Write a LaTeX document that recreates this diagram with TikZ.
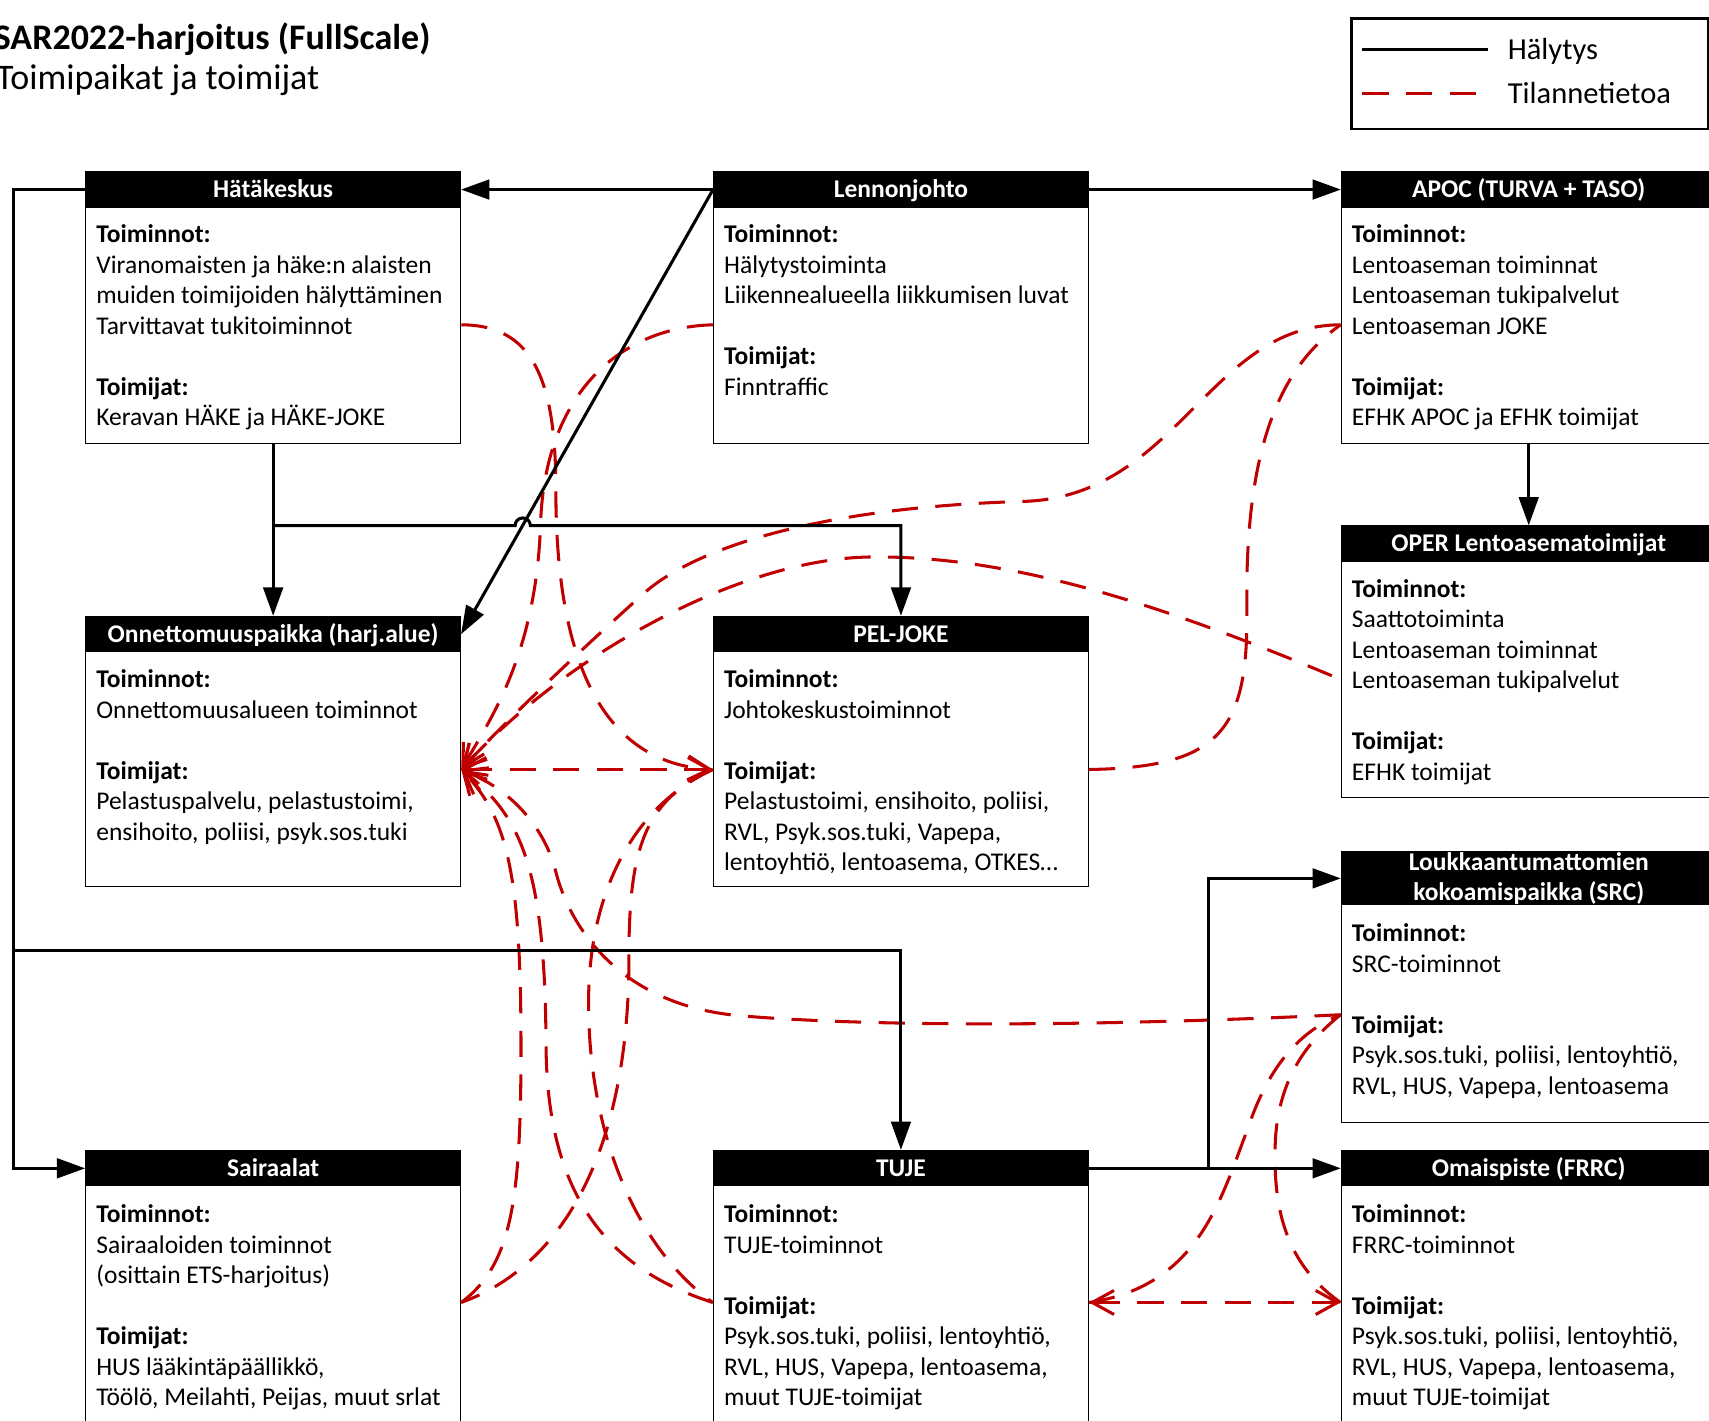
\documentclass[tikz,border=0pt]{standalone}
\usepackage{fontspec}
\setmainfont{Carlito}
\usetikzlibrary{arrows.meta,calc,positioning}

\definecolor{infored}{HTML}{C00000}

\tikzset{
  box/.style={draw, line width=0.6pt, fill=white, anchor=north west,
    minimum width=172pt, minimum height=124.5pt, inner sep=0pt},
  hbase/.style={fill=black, text=white, anchor=north, minimum width=172pt,
    minimum height=16.5pt, inner sep=0pt,
    font=\fontsize{11.7}{14}\selectfont\bfseries},
  head/.style={hbase, text height=9.4pt, text depth=2pt},
  txt/.style={anchor=north west, inner sep=0pt, align=left,
    font=\fontsize{11.7}{14}\selectfont,
    execute at begin node=\rule{0pt}{10pt}},
  legtxt/.style={anchor=base west, inner sep=0pt, font=\fontsize{14}{16}\selectfont},
  alarm/.style={line width=1.4pt, -{Triangle[length=13pt,width=9pt]}},
  info/.style={draw=infored, line width=1.4pt, dash pattern=on 12pt off 8pt},
  infoarrow/.style={info, -{Straight Barb[length=10pt,width=11pt]}},
  infoboth/.style={info, {Straight Barb[length=10pt,width=11pt]}-{Straight Barb[length=10pt,width=11pt]}},
}

\begin{document}
\begin{tikzpicture}[x=0.5pt, y=-0.5pt]

\useasboundingbox (0,0) rectangle (1568,1303);

% title
\node[anchor=base west, inner sep=0pt, font=\fontsize{16.5}{20}\selectfont\bfseries] (title) at (-6,45) {SAR2022-harjoitus (FullScale)};
\node[anchor=base west, inner sep=0pt, font=\fontsize{16.5}{20}\selectfont] (subtitle) at (-4,82) {Toimipaikat ja toimijat};

% legend
\node[draw, line width=1.2pt, anchor=north west, minimum width=163.5pt, minimum height=50.5pt, inner sep=0pt] (legend) at (1239,16) {};
\coordinate (lgA) at (1250,45);
\coordinate (lgB) at (1250,86);
\draw[line width=1.4pt] (lgA) -- ++(115,0);
\draw[info] (lgB) -- ++(115,0);
\node[legtxt] (lgT1) at (1383,55) {Hälytys};
\node[legtxt] (lgT2) at (1383,95) {Tilannetietoa};

% row 1
\node[box] (hk) at (78,157) {};
\node[head] (hkH) at (hk.north) {Hätäkeskus};
\node[txt] (hkT) at ($(hk.north west)+(10,49)$) {\textbf{Toiminnot:}\\ Viranomaisten ja häke:n alaisten\\ muiden toimijoiden hälyttäminen\\ Tarvittavat tukitoiminnot\\[14pt] \textbf{Toimijat:}\\ Keravan HÄKE ja HÄKE-JOKE};

\node[box] (lj) at (654,157) {};
\node[head] (ljH) at (lj.north) {Lennonjohto};
\node[txt] (ljT) at ($(lj.north west)+(10,49)$) {\textbf{Toiminnot:}\\ Hälytystoiminta\\ Liikennealueella liikkumisen luvat\\[14pt] \textbf{Toimijat:}\\ Finntraffic};

\node[box] (apoc) at (1230,157) {};
\node[head] (apocH) at (apoc.north) {APOC (TURVA + TASO)};
\node[txt] (apocT) at ($(apoc.north west)+(10,49)$) {\textbf{Toiminnot:}\\ Lentoaseman toiminnat\\ Lentoaseman tukipalvelut\\ Lentoaseman JOKE\\[14pt] \textbf{Toimijat:}\\ EFHK APOC ja EFHK toimijat};

% row 2
\node[box] (oper) at (1230,482) {};
\node[head] (operH) at (oper.north) {OPER Lentoasematoimijat};
\node[txt] (operT) at ($(oper.north west)+(10,49)$) {\textbf{Toiminnot:}\\ Saattotoiminta\\ Lentoaseman toiminnat\\ Lentoaseman tukipalvelut\\[14pt] \textbf{Toimijat:}\\ EFHK toimijat};

\node[box, minimum height=124pt] (onn) at (78,565) {};
\node[head] (onnH) at (onn.north) {Onnettomuuspaikka (harj.alue)};
\node[txt] (onnT) at ($(onn.north west)+(10,49)$) {\textbf{Toiminnot:}\\ Onnettomuusalueen toiminnot\\[14pt] \textbf{Toimijat:}\\ Pelastuspalvelu, pelastustoimi,\\ ensihoito, poliisi, psyk.sos.tuki};

\node[box, minimum height=124pt] (pel) at (654,565) {};
\node[head] (pelH) at (pel.north) {PEL-JOKE};
\node[txt] (pelT) at ($(pel.north west)+(10,49)$) {\textbf{Toiminnot:}\\ Johtokeskustoiminnot\\[14pt] \textbf{Toimijat:}\\ Pelastustoimi, ensihoito, poliisi,\\ RVL, Psyk.sos.tuki, Vapepa,\\ lentoyhtiö, lentoasema, OTKES\ldots};

% row 3
\node[box, minimum height=124pt] (src) at (1230,781) {};
\node[hbase, align=center, minimum height=24.5pt] (srcH) at (src.north) {Loukkaantumattomien\\ kokoamispaikka (SRC)};
\node[txt] (srcT) at ($(src.north west)+(10,66)$) {\textbf{Toiminnot:}\\ SRC-toiminnot\\[14pt] \textbf{Toimijat:}\\ Psyk.sos.tuki, poliisi, lentoyhtiö,\\ RVL, HUS, Vapepa, lentoasema};

\node[box, minimum height=125pt] (sai) at (78,1055) {};
\node[head] (saiH) at (sai.north) {Sairaalat};
\node[txt] (saiT) at ($(sai.north west)+(10,50)$) {\textbf{Toiminnot:}\\ Sairaaloiden toiminnot\\ (osittain ETS-harjoitus)\\[14pt] \textbf{Toimijat:}\\ HUS lääkintäpäällikkö,\\ Töölö, Meilahti, Peijas, muut srlat};

\node[box, minimum height=125pt] (tuje) at (654,1055) {};
\node[head] (tujeH) at (tuje.north) {TUJE};
\node[txt] (tujeT) at ($(tuje.north west)+(10,50)$) {\textbf{Toiminnot:}\\ TUJE-toiminnot\\[14pt] \textbf{Toimijat:}\\ Psyk.sos.tuki, poliisi, lentoyhtiö,\\ RVL, HUS, Vapepa, lentoasema,\\ muut TUJE-toimijat};

\node[box, minimum height=125pt] (omai) at (1230,1055) {};
\node[head] (omaiH) at (omai.north) {Omaispiste (FRRC)};
\node[txt] (omaiT) at ($(omai.north west)+(10,50)$) {\textbf{Toiminnot:}\\ FRRC-toiminnot\\[14pt] \textbf{Toimijat:}\\ Psyk.sos.tuki, poliisi, lentoyhtiö,\\ RVL, HUS, Vapepa, lentoasema,\\ muut TUJE-toimijat};

% connection points for the red lines
\coordinate (hkR) at ($(hk.north east)+(0,141)$);
\coordinate (ljL) at ($(lj.north west)+(0,141)$);
\coordinate (apL) at ($(apoc.north west)+(0,141)$);
\coordinate (operL) at ($(oper.north west)+(-8,138)$);
\coordinate (onR) at ($(onn.north east)+(0,141)$);
\coordinate (pelL) at ($(pel.north west)+(0,141)$);
\coordinate (pelR) at ($(pel.north east)+(0,141)$);
\coordinate (srcL) at ($(src.north west)+(0,150)$);
\coordinate (saiR) at ($(sai.north east)+(0,140)$);
\coordinate (tujeL) at ($(tuje.north west)+(0,140)$);
\coordinate (tujeR) at ($(tuje.north east)+(0,140)$);
\coordinate (omaiL) at ($(omai.north west)+(0,140)$);

% tilannetietoa
\draw[infoarrow] (hkR) .. controls (490,298) and (510,350) .. (510,450) .. controls (510,620) and (560,700) .. (pelL); % HK-PEL
\draw[infoarrow] (ljL) .. controls (570,300) and (500,360) .. (496,480) .. controls (492,600) and (450,660) .. (onR); % LJ-ONN
\draw[infoarrow] (apL) .. controls (1110,298) and (1080,455) .. (940,460) .. controls (760,465) and (640,500) .. (590,545) .. controls (540,590) and (470,655) .. (onR); % APOC-ONN
\draw[infoarrow] (operL) .. controls (1050,548) and (920,510) .. (800,511) .. controls (680,512) and (520,600) .. (onR); % OPER-ONN
\draw[info] (pelR) .. controls (1120,704) and (1145,670) .. (1144,560) .. controls (1142,420) and (1170,340) .. (apL); % PEL-APOC
\draw[infoboth] (onR) -- (pelL); % ONN-PEL
\draw[infoarrow] (srcL) .. controls (1000,942) and (800,942) .. (680,932) .. controls (560,922) and (520,840) .. (510,800) .. controls (500,760) and (470,725) .. (onR); % SRC-ONN
\draw[infoarrow] (saiR) .. controls (470,1160) and (478,1100) .. (478,960) .. controls (478,800) and (465,750) .. (onR); % SAI-ONN
\draw[infoarrow] (tujeL) .. controls (560,1165) and (502,1100) .. (501,960) .. controls (500,800) and (480,750) .. (onR); % TUJE-ONN
\draw[info] (pelL) .. controls (580,740) and (540,820) .. (540,920) .. controls (540,1050) and (590,1150) .. (tujeL); % PEL-TUJE
\draw[info] (pelL) .. controls (590,735) and (577,780) .. (577,880) .. controls (577,1050) and (520,1160) .. (saiR); % PEL-SAI
\draw[info] (tujeR) .. controls (1100,1180) and (1120,1100) .. (1145,1035) .. controls (1165,975) and (1195,945) .. (srcL); % TUJE-SRC
\draw[info] (omaiL) .. controls (1180,1160) and (1168,1110) .. (1170,1050) .. controls (1172,990) and (1200,955) .. (srcL); % OMAI-SRC
\draw[infoboth] (tujeR) -- (omaiL); % TUJE-OMAI

% halytys
\draw[alarm] (ljH.west) -- (hkH.east);
\draw[alarm] (ljH.east) -- (apocH.west);
\draw[alarm] (ljH.west) -- (onnH.east);
\draw[alarm] (hk.south) -- (onnH.north);
\coordinate (brA) at ($(hk.south)+(0,75)$);
\draw[alarm] (brA) -- ++(222,0) arc[start angle=180, end angle=0, radius=3.5pt] -| (pelH.north);
\draw[alarm] (hkH.west) -- ++(-66,0) |- (saiH.west);
\coordinate (brB) at (12,872);
\draw[alarm] (brB) -| (tujeH.north);
\draw[alarm] (apoc.south) -- (operH.north);
\draw[alarm] (tujeH.east) -- (omaiH.west);
\coordinate (brC) at ($(tujeH.east)+(110,0)$);
\draw[alarm] (brC) |- (srcH.west);

\end{tikzpicture}
\end{document}
